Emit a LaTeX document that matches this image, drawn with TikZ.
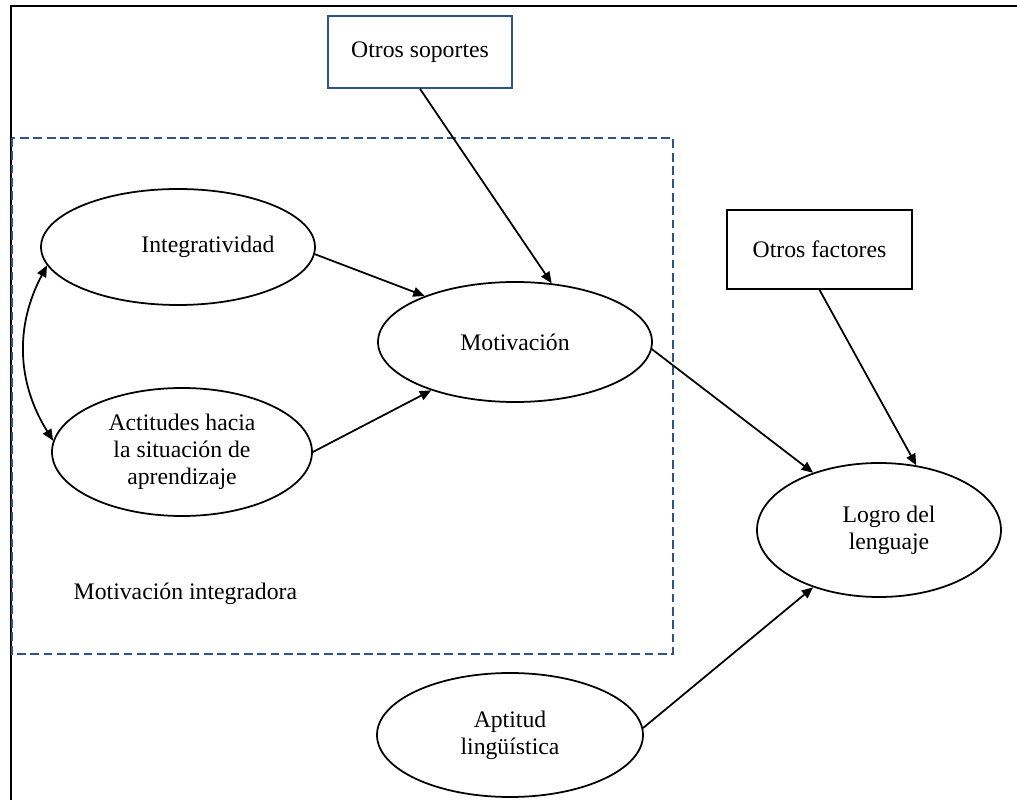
\documentclass[tikz,border=0pt]{standalone}
\usepackage{fontspec}
\setmainfont{Liberation Serif}
\usetikzlibrary{shapes.geometric,arrows.meta}
\definecolor{wordblue}{RGB}{47,82,143}
\begin{document}
\begin{tikzpicture}[line width=1pt, >={Triangle[length=6.5pt,width=5.5pt]}, main oval/.style={ellipse,draw,inner sep=0pt,align=center}, main box/.style={rectangle,draw,inner sep=0pt}]
\useasboundingbox (0,0) rectangle (20.34,-16);
% marco y recuadro punteado
\draw (0.22,-16) -- (0.22,-0.12) -- (20.34,-0.12);
\draw[wordblue, dash pattern=on 5pt off 2.6pt] (0.24,-2.76) rectangle (13.46,-13.08);
\begin{scope}[every node/.style={font=\fontsize{13.5}{15.5}\selectfont}]
\node[main oval, minimum width=5.48cm, minimum height=2.32cm] (integ) at (3.56,-4.94) {\hspace*{1.2cm}Integratividad};
\node[main oval, minimum width=5.2cm, minimum height=2.56cm] (actit) at (3.64,-9.04) {Actitudes hacia\\ la situación de\\ aprendizaje};
\node[main oval, minimum width=5.48cm, minimum height=2.4cm] (motiv) at (10.30,-6.84) {Motivación};
\node[main oval, minimum width=4.88cm, minimum height=2.68cm] (logro) at (17.58,-10.60) {\hspace*{0.4cm}Logro del\\ \hspace*{0.4cm}lenguaje};
\node[main oval, minimum width=5.32cm, minimum height=2.48cm] (aptit) at (10.20,-14.70) {Aptitud\\ lingüística};
\node[main box, draw=wordblue, minimum width=3.68cm, minimum height=1.44cm] (soport) at (8.40,-1.04) {Otros soportes};
\node[main box, minimum width=3.7cm, minimum height=1.58cm] (factor) at (16.39,-4.99) {Otros factores};
\node[anchor=west] (integra) at (1.34,-11.88) {Motivación integradora};
\end{scope}
\begin{scope}
\draw (soport.south) edge[->] (motiv.58);
\draw (integ.-3) edge[->] (motiv.153);
\draw (actit.0) edge[->] (motiv.210);
\draw (integ.188) edge[<->, bend right=30] (actit.175);
\draw (motiv.-3) edge[->] (logro.139);
\draw (factor.south) edge[->] (logro.60);
\draw (aptit.3) edge[->] (logro.221);
\end{scope}
\end{tikzpicture}
\end{document}
